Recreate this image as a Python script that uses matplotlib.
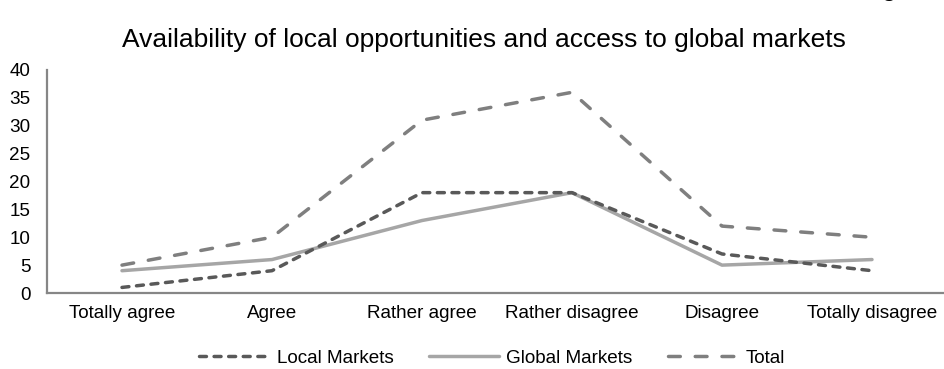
import matplotlib
matplotlib.use("Agg")
import matplotlib.pyplot as plt

plt.rcParams['font.family'] = ['Liberation Sans', 'DejaVu Sans']

categories = ["Totally agree", "Agree", "Rather agree", "Rather disagree",
              "Disagree", "Totally disagree"]
local_markets = [1, 4, 18, 18, 7, 4]
global_markets = [4, 6, 13, 18, 5, 6]
total = [5, 10, 31, 36, 12, 10]
y_ticks = [0, 5, 10, 15, 20, 25, 30, 35, 40]

W, H = 944, 369
fig = plt.figure(figsize=(W / 100, H / 100), dpi=100)
ax = fig.add_axes([47 / W, 1 - 293 / H, (W - 47) / W, 223 / H])

x = list(range(len(categories)))
lw = 2.5
ax.plot(x, local_markets, color="#595959", lw=lw, dashes=(2.0, 2.2),
        dash_capstyle="round", solid_capstyle="round", label="Local Markets", zorder=3)
ax.plot(x, global_markets, color="#a6a6a6", lw=lw, solid_capstyle="round",
        label="Global Markets", zorder=2)
ax.plot(x, total, color="#7f7f7f", lw=lw, dashes=(3.4, 4.3),
        dash_capstyle="round", label="Total", zorder=2)

ax.set_xlim(-0.5, -0.5 + (W - 47) / 150)
ax.set_ylim(0, 40)
ax.set_yticks(y_ticks)
ax.set_xticks(x)
ax.set_xticklabels(categories)
ax.tick_params(axis="both", length=0, labelsize=13.6, colors="black")
ax.tick_params(axis="x", pad=9)
ax.tick_params(axis="y", pad=12)

for side in ("top", "right"):
    ax.spines[side].set_visible(False)
for side in ("left", "bottom"):
    ax.spines[side].set_color("#868686")
    ax.spines[side].set_linewidth(1.6)

fig.text(484 / W, 1 - 40 / H, "Availability of local opportunities and access to global markets",
         ha="center", va="center", fontsize=19)
# tail of the heading line above, cut off by the top edge
fig.text(889 / W, 1 + 3.5 / H, "g", ha="center", va="baseline", fontsize=19)

fig.legend(loc="center", bbox_to_anchor=(492 / W, 1 - 358 / H), ncol=3, frameon=False,
           fontsize=13.6, handlelength=3.75, columnspacing=1.85, handletextpad=0.37)

fig.savefig("out.png", dpi=100)
